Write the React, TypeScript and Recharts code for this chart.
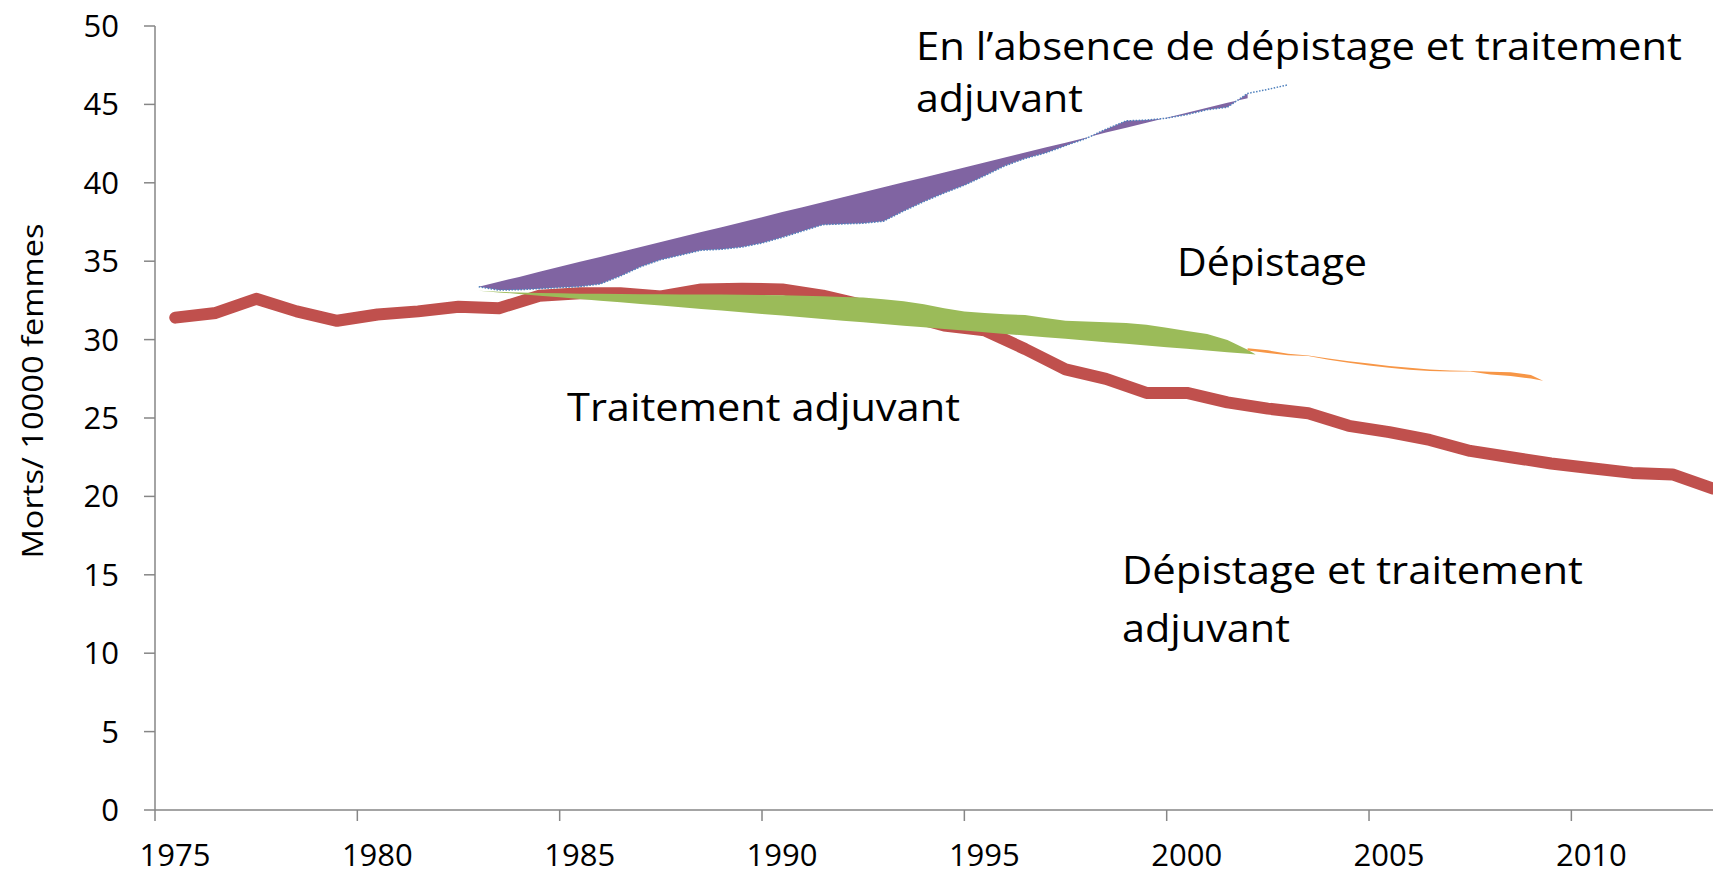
import React from "react";
import { ComposedChart, Line, Area, XAxis, YAxis } from "recharts";

const W = 1713;
const H = 874;
const FONT = "'Open Sans', 'Noto Sans', sans-serif";
const AXIS_GREY = "#868686";

// observed mortality, one value per year
const YEARS = [
  1975, 1976, 1977, 1978, 1979, 1980, 1981, 1982, 1983, 1984,
  1985, 1986, 1987, 1988, 1989, 1990, 1991, 1992, 1993, 1994,
  1995, 1996, 1997, 1998, 1999, 2000, 2001, 2002, 2003, 2004,
  2005, 2006, 2007, 2008, 2009, 2010, 2011, 2012, 2013,
];
const OBSERVED = [
  31.4, 31.7, 32.6, 31.8, 31.2, 31.6, 31.8, 32.1, 32.0, 32.8,
  32.95, 32.95, 32.75, 33.2, 33.25, 33.2, 32.8, 32.2, 31.6, 30.9,
  30.6, 29.4, 28.1, 27.5, 26.6, 26.6, 26.0, 25.6, 25.3, 24.5,
  24.1, 23.6, 22.9, 22.5, 22.1, 21.8, 21.5, 21.4, 20.5,
];

// "en l'absence de dépistage et traitement" band (purple)
const ABS_X = [
  1983, 1983.5, 1984, 1984.5, 1985, 1985.5, 1986, 1986.5, 1987, 1987.5,
  1988, 1988.5, 1989, 1989.5, 1990, 1990.5, 1991, 1991.5, 1992, 1992.5,
  1993, 1993.5, 1994, 1994.5, 1995, 1995.5, 1996, 1996.5, 1997, 1997.5,
  1998, 1998.5, 1999, 1999.5, 2000, 2000.5, 2001, 2001.5, 2002, 2002.5, 2003,
];
const ABS_LOW = [
  33.37, 33.16, 33.18, 33.25, 33.32, 33.38, 33.55, 34.05, 34.65, 35.1,
  35.4, 35.7, 35.76, 35.9, 36.16, 36.52, 36.92, 37.33, 37.38, 37.42,
  37.55, 38.2, 38.8, 39.35, 39.85, 40.45, 41.08, 41.55, 41.9, 42.37,
  42.82, 43.42, 43.95, 44.0, 44.12, 44.35, 44.66, 44.82, 45.7, 45.96, 46.25,
];
const ABS_HIGH = [
  33.37, 33.69, 34.0, 34.32, 34.64, 34.96, 35.27, 35.59, 35.91, 36.22,
  36.54, 36.86, 37.17, 37.49, 37.81, 38.13, 38.44, 38.76, 39.08, 39.39,
  39.71, 40.03, 40.34, 40.66, 40.98, 41.3, 41.61, 41.93, 42.25, 42.56,
  42.88, 43.2, 43.51, 43.83, 44.15, 44.46, 44.78, 45.1, 45.4, null, null,
];

// "traitement adjuvant" band (green)
const TRT_X = [
  1983, 1983.5, 1984, 1984.5, 1985, 1985.5, 1986, 1986.5, 1987, 1987.5,
  1988, 1988.5, 1989, 1989.5, 1990, 1990.5, 1991, 1991.5, 1992, 1992.5,
  1993, 1993.5, 1994, 1994.5, 1995, 1995.5, 1996, 1996.5, 1997, 1997.5,
  1998, 1998.5, 1999, 1999.5, 2000, 2000.5, 2001, 2001.5, 2002, 2002.2,
];
const TRT_HIGH = [
  33.12, 33.05, 33.0, 32.97, 32.95, 32.93, 32.92, 32.91, 32.9, 32.89,
  32.88, 32.88, 32.87, 32.86, 32.85, 32.83, 32.8, 32.76, 32.72, 32.68,
  32.58, 32.45, 32.25, 32.0, 31.8, 31.7, 31.62, 31.57, 31.38, 31.2,
  31.15, 31.1, 31.06, 30.95, 30.75, 30.55, 30.35, 29.97, 29.35, 29.05,
];
const TRT_LOW = [
  33.12, 33.01, 32.91, 32.8, 32.7, 32.59, 32.48, 32.38, 32.27, 32.17,
  32.06, 31.95, 31.85, 31.74, 31.64, 31.53, 31.42, 31.32, 31.21, 31.11,
  31.0, 30.89, 30.79, 30.68, 30.58, 30.47, 30.36, 30.26, 30.15, 30.05,
  29.94, 29.83, 29.73, 29.62, 29.52, 29.41, 29.3, 29.2, 29.09, 29.05,
];

// "dépistage" band (orange)
const SCR_X = [
  2002, 2002.5, 2003, 2003.5, 2004, 2004.5, 2005, 2005.5,
  2006, 2006.5, 2007, 2007.5, 2008, 2008.5, 2009, 2009.3,
];
const SCR_HIGH = [
  29.45, 29.32, 29.1, 28.98, 28.8, 28.62, 28.48, 28.32,
  28.2, 28.1, 28.03, 27.99, 27.95, 27.92, 27.75, 27.38,
];
const SCR_LOW = [
  29.3, 29.15, 29.0, 28.96, 28.72, 28.52, 28.35, 28.2,
  28.08, 28.0, 27.97, 27.97, 27.78, 27.68, 27.52, 27.38,
];

const X_TICKS = [1975, 1980, 1985, 1990, 1995, 2000, 2005, 2010];
const Y_TICKS = [0, 5, 10, 15, 20, 25, 30, 35, 40, 45, 50];

// Excel category axis: each annual point sits in the middle of its year slot
const observedRows = YEARS.map((y, i) => ({ x: y + 0.5, v: OBSERVED[i] }));
const absRows = ABS_X.map((x, i) => ({
  x,
  low: ABS_LOW[i],
  band: ABS_HIGH[i] == null ? null : [ABS_LOW[i], ABS_HIGH[i]],
}));
const trtRows = TRT_X.map((x, i) => ({ x, band: [TRT_LOW[i], TRT_HIGH[i]] }));
const scrRows = SCR_X.map((x, i) => ({ x, band: [SCR_LOW[i], SCR_HIGH[i]] }));

const XTick = (props: any) => {
  const { x, y, payload } = props;
  return (
    <text x={x + 20} y={y} dy="0.71em" textAnchor="middle" fontSize={31} fontFamily={FONT} fill="#000">
      {payload.value}
    </text>
  );
};

const labelStyle = { fontFamily: FONT, fontSize: 39, fill: "#000" };

function Notes() {
  const lines = [
    { t: "En l’absence de dépistage et traitement", x: 916, y: 60, w: 766 },
    { t: "adjuvant", x: 916, y: 112, w: 167 },
    { t: "Dépistage", x: 1177, y: 276, w: 190 },
    { t: "Traitement adjuvant", x: 567, y: 421, w: 393 },
    { t: "Dépistage et traitement", x: 1122, y: 584, w: 461 },
    { t: "adjuvant", x: 1122, y: 642, w: 168 },
  ];
  return (
    <svg width={W} height={H} style={{ position: "absolute", left: 0, top: 0, pointerEvents: "none" }}>
      {lines.map((l, i) => (
        <text key={i} x={l.x} y={l.y} textLength={l.w} lengthAdjust="spacingAndGlyphs" {...labelStyle}>
          {l.t}
        </text>
      ))}
      <text
        transform="translate(43, 391) rotate(-90)"
        textAnchor="middle"
        textLength={335}
        lengthAdjust="spacingAndGlyphs"
        fontFamily={FONT}
        fontSize={29}
        fill="#000"
      >
        Morts/ 10000 femmes
      </text>
    </svg>
  );
}

export default function App() {
  return (
    <div style={{ position: "absolute", left: 0, top: 0, width: W, height: H, background: "#fff", overflow: "hidden" }}>
      <ComposedChart width={W} height={H} margin={{ top: 26, right: 0, bottom: 0, left: 0 }}>
        <XAxis
          type="number"
          dataKey="x"
          domain={[1975, 2013.5]}
          ticks={X_TICKS}
          interval={0}
          allowDataOverflow
          height={64}
          tickSize={11}
          tickMargin={23}
          stroke={AXIS_GREY}
          strokeWidth={1.5}
          tick={<XTick />}
        />
        <YAxis
          type="number"
          domain={[0, 50]}
          ticks={Y_TICKS}
          interval={0}
          width={155}
          tickSize={11}
          tickMargin={25}
          stroke={AXIS_GREY}
          strokeWidth={1.5}
          tick={{ fontSize: 31, fontFamily: FONT, fill: "#000" }}
        />
        <Line
          data={observedRows}
          dataKey="v"
          stroke="#C0504D"
          strokeWidth={12}
          strokeLinejoin="round"
          strokeLinecap="round"
          dot={false}
          activeDot={false}
          isAnimationActive={false}
          zIndex={50}
        />
        <Area
          data={absRows}
          dataKey="band"
          stroke="none"
          fill="#8064A2"
          fillOpacity={1}
          isAnimationActive={false}
          activeDot={false}
        />
        <Area
          data={trtRows}
          dataKey="band"
          stroke="none"
          fill="#9BBB59"
          fillOpacity={1}
          isAnimationActive={false}
          activeDot={false}
        />
        <Area
          data={scrRows}
          dataKey="band"
          stroke="none"
          fill="#F79646"
          fillOpacity={1}
          isAnimationActive={false}
          activeDot={false}
        />
        <Line
          data={absRows}
          dataKey="low"
          stroke="#4F81BD"
          strokeWidth={1.5}
          strokeDasharray="1.5 1.5"
          dot={false}
          activeDot={false}
          isAnimationActive={false}
        />
      </ComposedChart>
      <Notes />
    </div>
  );
}
